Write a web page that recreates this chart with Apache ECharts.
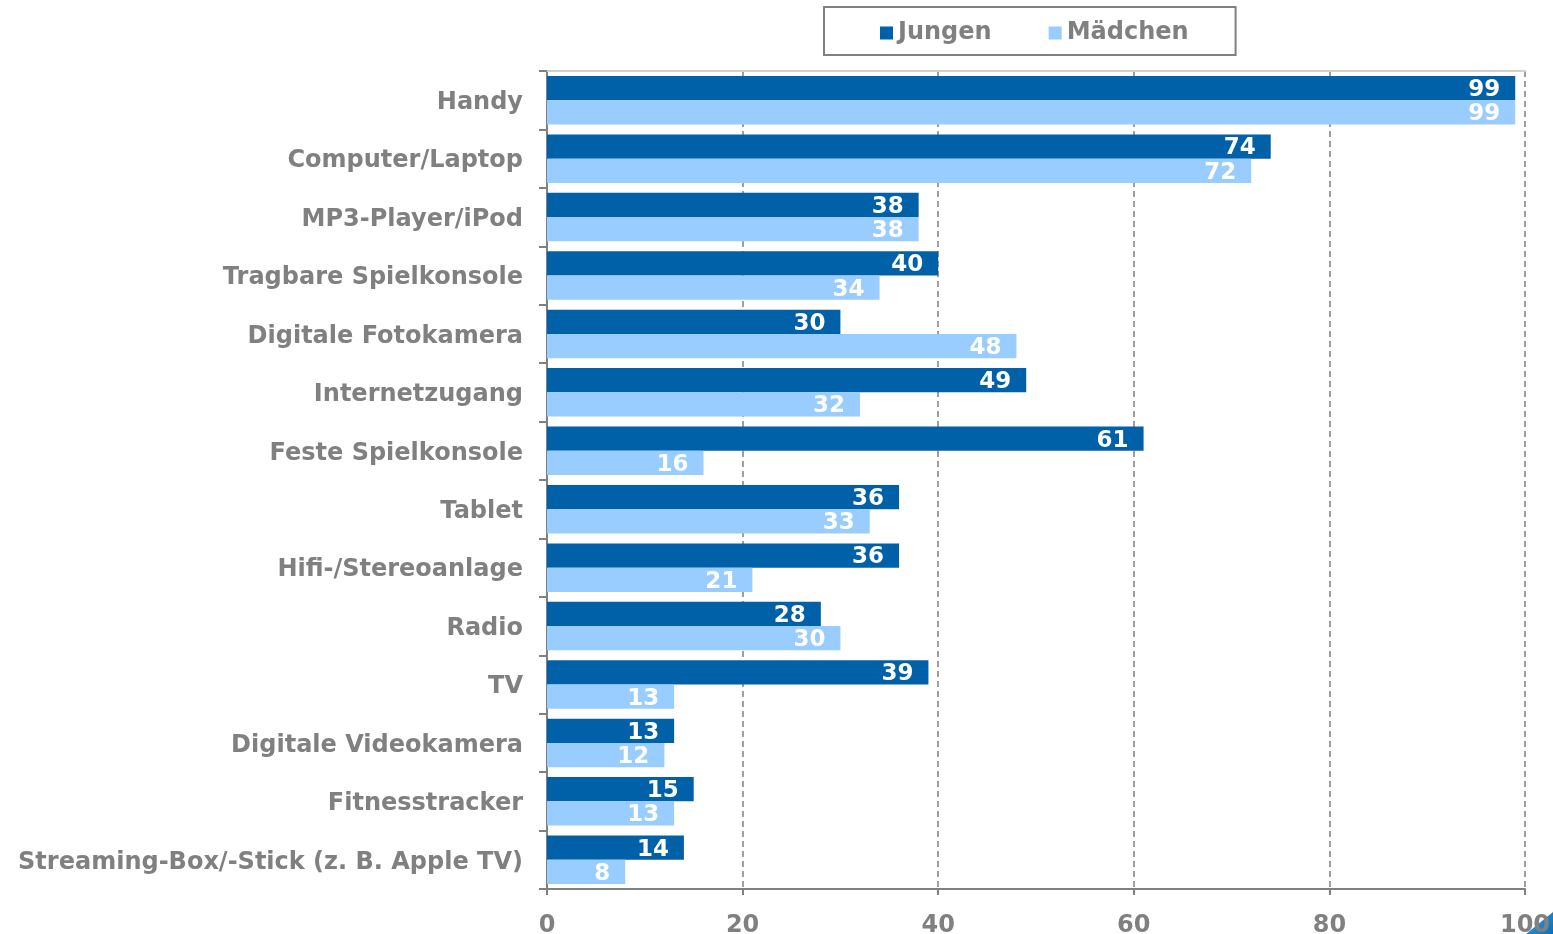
<!DOCTYPE html>
<html>
<head>
<meta charset="utf-8">
<script src="https://cdn.jsdelivr.net/npm/echarts@6/dist/echarts.min.js"></script>
<style>
  html, body { margin: 0; padding: 0; background: #fff; }
  #chart { width: 1553px; height: 934px; }
</style>
</head>
<body>
<div id="chart"></div>
<script>
// Kategorien (von oben nach unten)
var categories = ['Handy', 'Computer/Laptop', 'MP3-Player/iPod', 'Tragbare Spielkonsole',
  'Digitale Fotokamera', 'Internetzugang', 'Feste Spielkonsole', 'Tablet',
  'Hifi-/Stereoanlage', 'Radio', 'TV', 'Digitale Videokamera', 'Fitnesstracker',
  'Streaming-Box/-Stick (z. B. Apple TV)'];
var jungen = [99, 74, 38, 40, 30, 49, 61, 36, 36, 28, 39, 13, 15, 14];
var maedchen = [99, 72, 38, 34, 48, 32, 16, 33, 21, 30, 13, 12, 13, 8];
var xTicks = [0, 20, 40, 60, 80, 100];

var font = 'DejaVu Sans';
var grey = '#808080';
var fs = 24;

var chart = echarts.init(document.getElementById('chart'));

var valueLabel = {
  show: true,
  position: 'insideRight',
  distance: 15,
  offset: [0, 2],
  color: '#fff',
  fontFamily: font,
  fontWeight: 'bold',
  fontSize: 23
};

var option = {
  animation: false,
  // kleine blaue Ecke unten rechts
  graphic: [{
    type: 'polygon',
    z: -1,
    shape: { points: [[1526, 934], [1553, 912], [1553, 934]] },
    style: {
      fill: new echarts.graphic.LinearGradient(0, 0, 1, 1, [
        { offset: 0, color: '#3aa0dc' },
        { offset: 1, color: '#0a6fb8' }
      ])
    }
  }],
  legend: {
    left: 824,
    top: 7,
    padding: [14, 47, 10, 56],
    itemGap: 57,
    itemWidth: 13,
    itemHeight: 13,
    borderColor: grey,
    borderWidth: 2,
    borderRadius: 0,
    textStyle: { color: grey, fontFamily: font, fontWeight: 'bold', fontSize: fs },
    data: [
      { name: 'Jungen', icon: 'rect' },
      { name: 'Mädchen', icon: 'rect' }
    ]
  },
  grid: { left: 547, right: 28, top: 71, bottom: 45, outerBoundsMode: 'none' },
  xAxis: [{
    type: 'value',
    min: xTicks[0],
    max: xTicks[xTicks.length - 1],
    interval: 20,
    axisLine: { show: true, lineStyle: { color: grey, width: 2 } },
    axisTick: { show: true, length: 6, lineStyle: { color: grey, width: 2 } },
    axisLabel: { color: grey, fontFamily: font, fontWeight: 'bold', fontSize: fs, margin: 25 },
    splitLine: { show: true, lineStyle: { color: grey, type: [6, 4], width: 1.5 } }
  }, {
    type: 'value',
    position: 'top',
    min: 0, max: 100,
    axisLine: { show: true, lineStyle: { color: '#d0d0d0', width: 2 } },
    axisTick: { show: false },
    axisLabel: { show: false },
    splitLine: { show: false }
  }],
  yAxis: {
    type: 'category',
    inverse: true,
    data: categories,
    axisLine: { show: true, lineStyle: { color: grey, width: 2 } },
    axisTick: { show: true, length: 8, lineStyle: { color: grey, width: 2 } },
    axisLabel: {
      color: grey, fontFamily: font, fontWeight: 'bold', fontSize: fs, margin: 24,
      verticalAlign: 'top', lineHeight: 5
    }
  },
  series: [{
    name: 'Jungen',
    type: 'bar',
    data: jungen,
    itemStyle: { color: '#0060A8' },
    barGap: '0%',
    barCategoryGap: '17%',
    label: valueLabel
  }, {
    name: 'Mädchen',
    type: 'bar',
    data: maedchen,
    itemStyle: { color: '#99CCFF' },
    label: valueLabel
  }]
};

chart.setOption(option);
</script>
</body>
</html>
